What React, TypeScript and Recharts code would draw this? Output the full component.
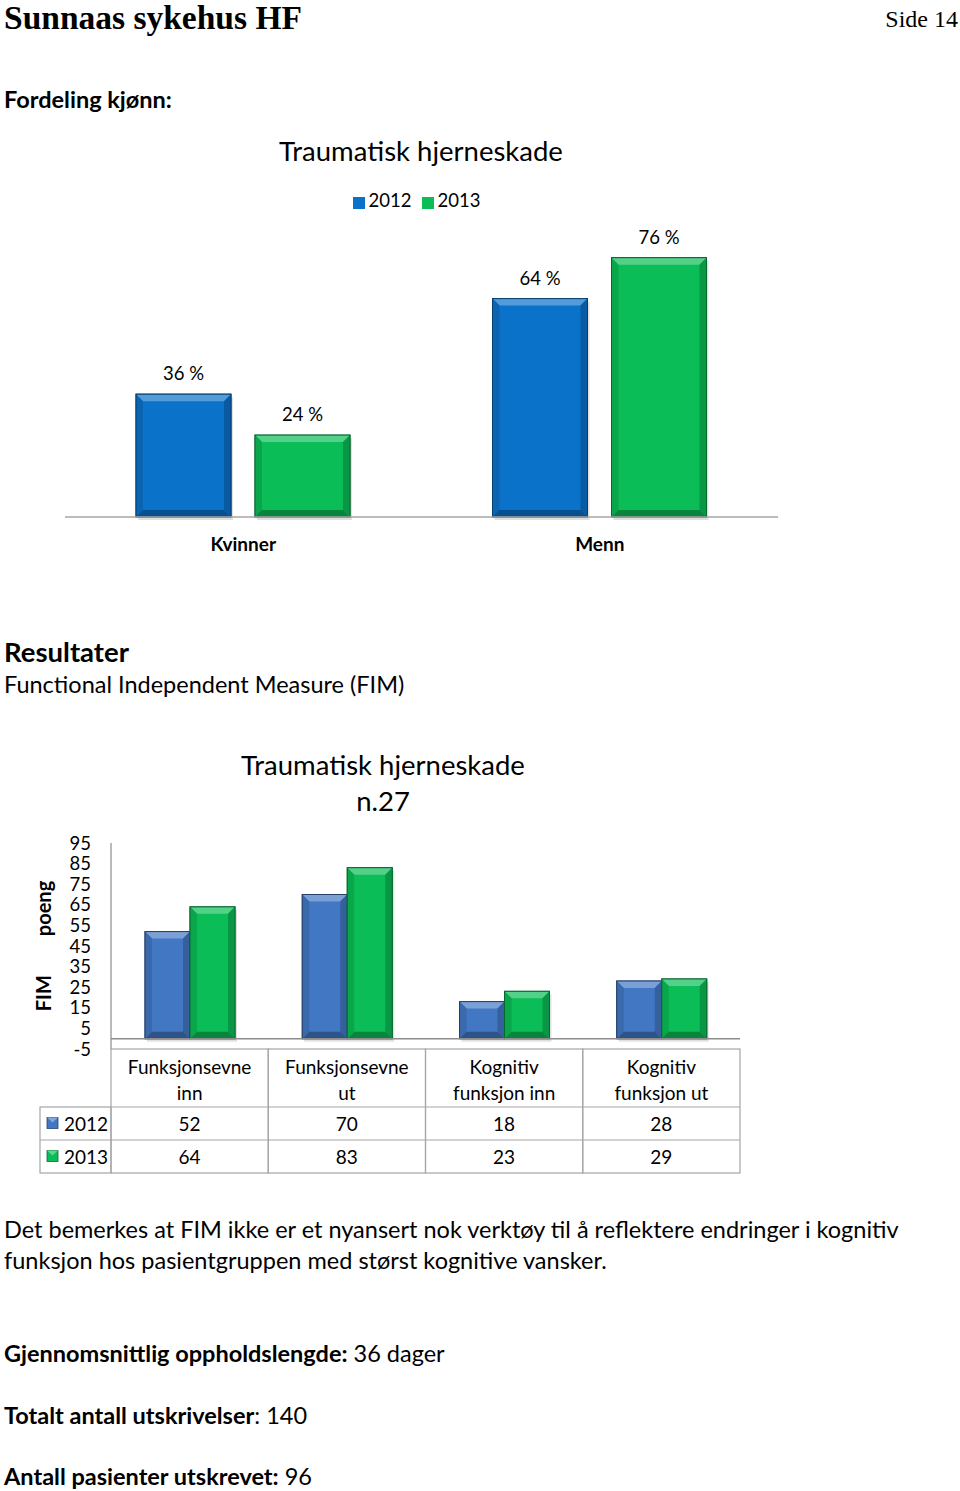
import React from "react";
import { BarChart, Bar, XAxis, YAxis, Legend, LabelList, ReferenceLine, Label } from "recharts";

// Fordeling kjønn
const genderCategories = ["Kvinner", "Menn"];
const gender2012 = [36, 64];
const gender2013 = [24, 76];

// FIM
const fimCategories = ["Funksjonsevne\ninn", "Funksjonsevne\nut", "Kognitiv\nfunksjon inn", "Kognitiv\nfunksjon ut"];
const fim2012 = [52, 70, 18, 28];
const fim2013 = [64, 83, 23, 29];
const fimTicks = [95, 85, 75, 65, 55, 45, 35, 25, 15, 5, -5];
const seriesNames = ["2012", "2013"];

const genderData = genderCategories.map((c, i) => ({ name: c, y2012: gender2012[i], y2013: gender2013[i] }));
const fimData = fimCategories.map((c, i) => ({ name: c, y2012: fim2012[i], y2013: fim2013[i] }));

const FONT = "Lato, 'Open Sans', sans-serif";
const BLUE1 = "#0b72c9";
const BLUE2 = "#4277c4";
const GREEN = "#0bbd56";
const BODY = 23.5;

const shade = (hex: string, f: number) => {
  const n = parseInt(hex.slice(1), 16);
  const ch = [(n >> 16) & 255, (n >> 8) & 255, n & 255].map((v) =>
    Math.round(f > 0 ? v + (255 - v) * f : v * (1 + f))
  );
  return `rgb(${ch[0]},${ch[1]},${ch[2]})`;
};

const BevelBar = (props: any) => {
  const { x, y, width, height, color } = props;
  if (!height || height <= 0) return null;
  const b = Math.min(7, height / 3);
  return (
    <g>
      <rect x={x + 2} y={y + 3} width={width} height={height} fill="#000" opacity={0.12} />
      <rect x={x} y={y} width={width} height={height} fill={color} stroke={shade(color, -0.45)} strokeWidth={1} />
      <polygon points={`${x},${y} ${x + width},${y} ${x + width - b},${y + b} ${x + b},${y + b}`} fill={shade(color, 0.3)} />
      <polygon points={`${x},${y} ${x + b},${y + b} ${x + b},${y + height - b} ${x},${y + height}`} fill={shade(color, -0.12)} />
      <polygon points={`${x + width},${y} ${x + width - b},${y + b} ${x + width - b},${y + height - b} ${x + width},${y + height}`} fill={shade(color, -0.2)} />
      <polygon points={`${x},${y + height} ${x + b},${y + height - b} ${x + width - b},${y + height - b} ${x + width},${y + height}`} fill={shade(color, -0.3)} />
      <rect x={x} y={y} width={width} height={height} fill="none" stroke={shade(color, -0.45)} strokeWidth={1} />
    </g>
  );
};

const Txt = ({ top, left, right, size, bold, serif, children }: any) => (
  <div
    style={{
      position: "absolute",
      top,
      left,
      right,
      transform: "translateY(-50%)",
      fontSize: size,
      fontWeight: bold ? 700 : 400,
      fontFamily: serif ? "'Liberation Serif', serif" : FONT,
      whiteSpace: "nowrap",
      color: "#000",
      lineHeight: 1,
    }}
  >
    {children}
  </div>
);

const CenterTxt = ({ top, cx, size, children }: any) => (
  <div
    style={{
      position: "absolute",
      left: cx - 300,
      width: 600,
      top,
      transform: "translateY(-50%)",
      textAlign: "center",
      fontFamily: FONT,
      fontSize: size,
      lineHeight: 1.2,
      color: "#000",
      whiteSpace: "nowrap",
    }}
  >
    {children}
  </div>
);

// chart 2 table geometry
const C2_LEFT = 111;
const C2_RIGHT = 740;
const COL_W = (C2_RIGHT - C2_LEFT) / fimCategories.length;
const HEADER_H = 58;
const ROW_H = 33;
const KEY_LEFT = 40;
const GRID = "#a6a6a6";

const KeyIcon = ({ x, y, color }: any) => (
  <g>
    <rect x={x} y={y} width={11} height={11} fill={color} stroke={shade(color, -0.4)} strokeWidth={0.8} />
    <polygon points={`${x},${y} ${x + 11},${y} ${x + 5.5},${y + 5}`} fill={shade(color, 0.35)} />
  </g>
);

const TableTick = (props: any) => {
  const { x, y, index, payload } = props;
  const left = x - COL_W / 2;
  const top = y;
  const lines = String(payload.value).split("\n");
  const vals = [fim2012[index], fim2013[index]];
  return (
    <g fontFamily={FONT} fontSize={19} fill="#000">
      <rect x={left} y={top} width={COL_W} height={HEADER_H + 2 * ROW_H} fill="none" stroke={GRID} strokeWidth={1.2} />
      <line x1={left} x2={left + COL_W} y1={top + HEADER_H} y2={top + HEADER_H} stroke={GRID} strokeWidth={1.2} />
      <line x1={left} x2={left + COL_W} y1={top + HEADER_H + ROW_H} y2={top + HEADER_H + ROW_H} stroke={GRID} strokeWidth={1.2} />
      {lines.map((l, i) => (
        <text key={l} x={x} y={top + 17 + i * 26} textAnchor="middle" dominantBaseline="central">
          {l}
        </text>
      ))}
      {vals.map((v, i) => (
        <text key={i} x={x} y={top + HEADER_H + ROW_H * i + ROW_H / 2} textAnchor="middle" dominantBaseline="central">
          {v}
        </text>
      ))}
      {index === 0 && (
        <g>
          <rect x={KEY_LEFT} y={top + HEADER_H} width={left - KEY_LEFT} height={2 * ROW_H} fill="none" stroke={GRID} strokeWidth={1.2} />
          <line x1={KEY_LEFT} x2={left} y1={top + HEADER_H + ROW_H} y2={top + HEADER_H + ROW_H} stroke={GRID} strokeWidth={1.2} />
          {seriesNames.map((s, i) => (
            <g key={s}>
              <KeyIcon x={KEY_LEFT + 7} y={top + HEADER_H + ROW_H * i + ROW_H / 2 - 6} color={i === 0 ? BLUE2 : GREEN} />
              <text x={KEY_LEFT + 24} y={top + HEADER_H + ROW_H * i + ROW_H / 2} dominantBaseline="central">
                {s}
              </text>
            </g>
          ))}
        </g>
      )}
    </g>
  );
};

const legendFormatter = (value: string) => <span style={{ color: "#000", fontSize: 18.5, fontFamily: FONT }}>{value}</span>;

const yLabel = "FIM" + "\u00a0".repeat(8) + "poeng";

export default function App() {
  return (
    <div style={{ position: "absolute", left: 0, top: 0, width: 960, height: 1491, background: "#fff", overflow: "hidden" }}>
      <Txt top={18} left={4} size={33.5} bold serif>Sunnaas sykehus HF</Txt>
      <Txt top={19} right={2} size={24} serif>Side 14</Txt>
      <Txt top={100} left={4} size={BODY} bold>Fordeling kjønn:</Txt>

      <CenterTxt top={150} cx={421} size={27.5}>Traumatisk hjerneskade</CenterTxt>
      <div style={{ position: "absolute", left: 0, top: 130 }}>
        <BarChart
          width={960}
          height={450}
          data={genderData}
          margin={{ top: 114, right: 182, left: 65, bottom: 33 }}
          barSize={95}
          barGap={24}
        >
          <XAxis
            dataKey="name"
            tickLine={false}
            tickSize={0}
            tickMargin={21}
            height={30}
            axisLine={{ stroke: "#a6a6a6", strokeWidth: 1.5 }}
            tick={{ fill: "#000", fontSize: 19, fontWeight: 700, fontFamily: FONT }}
          />
          <YAxis hide domain={[0, 80]} />
          <Legend
            layout="horizontal"
            verticalAlign="middle"
            align="center"
            iconType="square"
            iconSize={12}
            formatter={legendFormatter}
            wrapperStyle={{ top: 59 }}
          />
          <Bar dataKey="y2012" name={seriesNames[0]} fill={BLUE1} isAnimationActive={false} shape={(p: any) => <BevelBar {...p} color={BLUE1} />}>
            <LabelList dataKey="y2012" position="top" offset={14} formatter={(v: any) => `${v} %`} style={{ fill: "#000", fontSize: 18.5, fontFamily: FONT }} />
          </Bar>
          <Bar dataKey="y2013" name={seriesNames[1]} fill={GREEN} isAnimationActive={false} shape={(p: any) => <BevelBar {...p} color={GREEN} />}>
            <LabelList dataKey="y2013" position="top" offset={14} formatter={(v: any) => `${v} %`} style={{ fill: "#000", fontSize: 18.5, fontFamily: FONT }} />
          </Bar>
        </BarChart>
      </div>

      <Txt top={652} left={4} size={27.5} bold>Resultater</Txt>
      <Txt top={685} left={4} size={BODY}>Functional Independent Measure (FIM)</Txt>

      <CenterTxt top={764} cx={383} size={27.5}>Traumatisk hjerneskade</CenterTxt>
      <CenterTxt top={800} cx={383} size={27.5}>n.27</CenterTxt>
      <div style={{ position: "absolute", left: 0, top: 820 }}>
        <BarChart
          width={960}
          height={360}
          data={fimData}
          margin={{ top: 23, right: 960 - C2_RIGHT, left: 0, bottom: 6 }}
          barSize={45}
          barGap={0}
        >
          <XAxis
            dataKey="name"
            axisLine={false}
            tickLine={false}
            tickSize={0}
            tickMargin={0}
            height={125}
            interval={0}
            tick={<TableTick />}
          />
          <YAxis
            width={C2_LEFT}
            domain={[-5, 95]}
            ticks={fimTicks}
            interval={0}
            tickLine={false}
            tickSize={0}
            tickMargin={20}
            axisLine={{ stroke: "#8c8c8c", strokeWidth: 1.2 }}
            tick={{ fill: "#000", fontSize: 18.5, fontFamily: FONT }}
          >
            <Label value={yLabel} angle={-90} position="center" dx={-12} style={{ fill: "#000", fontSize: 20, fontWeight: 700, fontFamily: FONT }} />
          </YAxis>
          <ReferenceLine y={0} stroke="#8c8c8c" strokeWidth={1.5} />
          <Bar dataKey="y2012" name={seriesNames[0]} fill={BLUE2} isAnimationActive={false} shape={(p: any) => <BevelBar {...p} color={BLUE2} />} />
          <Bar dataKey="y2013" name={seriesNames[1]} fill={GREEN} isAnimationActive={false} shape={(p: any) => <BevelBar {...p} color={GREEN} />} />
        </BarChart>
      </div>

      <Txt top={1230} left={4} size={BODY}>Det bemerkes at FIM ikke er et nyansert nok verktøy til å reflektere endringer i kognitiv</Txt>
      <Txt top={1261} left={4} size={BODY}>funksjon hos pasientgruppen med størst kognitive vansker.</Txt>
      <Txt top={1354} left={4} size={BODY}><b>Gjennomsnittlig oppholdslengde:</b> 36 dager</Txt>
      <Txt top={1416} left={4} size={BODY}><b>Totalt antall utskrivelser</b>: 140</Txt>
      <Txt top={1477} left={4} size={BODY}><b>Antall pasienter utskrevet:</b> 96</Txt>
    </div>
  );
}
